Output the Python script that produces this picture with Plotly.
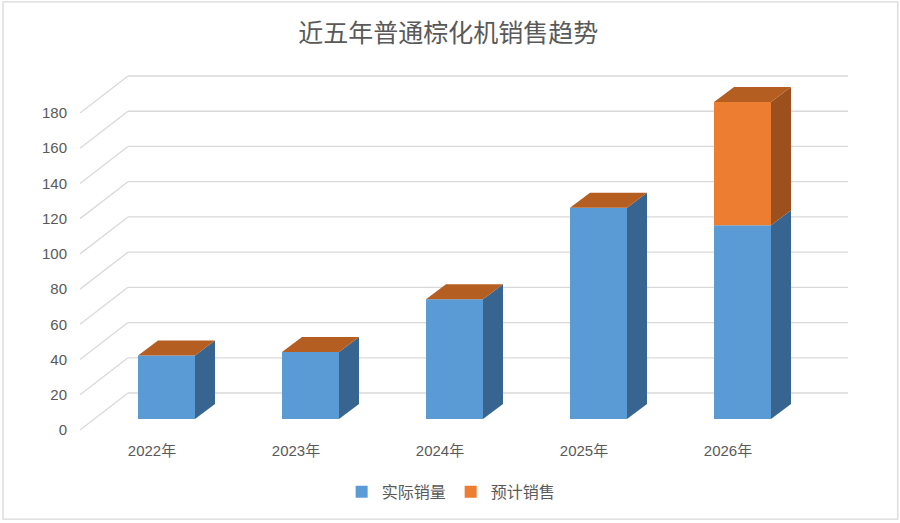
import plotly.graph_objects as go

# data
years = ['2022年', '2023年', '2024年', '2025年', '2026年']
actual = [36, 38, 68, 120, 110]
forecast = [0, 0, 0, 0, 70]
y_ticks = list(range(0, 181, 20))

# pseudo-3D geometry (category units on x, value units on y)
PX_CAT = 144
PX_VAL = 1.761
WALL_DX, WALL_DY = 48 / PX_CAT, 37 / PX_VAL
BAR_DX, BAR_DY = 14.5 / PX_CAT, 11 / PX_VAL
DEPTH_DX, DEPTH_DY = 20 / PX_CAT, 15 / PX_VAL
BAR_W = 57 / PX_CAT

BLUE, BLUE_SIDE = '#5B9BD5', '#386590'
ORANGE, ORANGE_SIDE, ORANGE_TOP = '#ED7D31', '#9C501D', '#B55E22'
GRID = '#D9D9D9'
TEXT = '#595959'
FONT = 'Liberation Sans, Noto Sans CJK SC'


def poly(points):
    xs = [p[0] for p in points] + [points[0][0]]
    ys = [p[1] for p in points] + [points[0][1]]
    return xs, ys


def face_trace(polys, color):
    xs, ys = [], []
    for p in polys:
        px, py = poly(p)
        xs += px + [None]
        ys += py + [None]
    return go.Scatter(x=xs, y=ys, mode='lines', fill='toself', fillcolor=color,
                      line=dict(width=0, color=color), showlegend=False,
                      hoverinfo='skip')


fig = go.Figure()

# back wall gridlines + diagonals to front plane
shapes = []
x_left = -0.5
x_right = len(years) - 0.5
for v in y_ticks:
    shapes.append(dict(type='line', xref='x', yref='y', layer='below',
                       x0=x_left, y0=v, x1=x_left + WALL_DX, y1=v + WALL_DY,
                       line=dict(color=GRID, width=1.3)))
    shapes.append(dict(type='line', xref='x', yref='y', layer='below',
                       x0=x_left + WALL_DX, y0=v + WALL_DY,
                       x1=x_right + WALL_DX, y1=v + WALL_DY,
                       line=dict(color=GRID, width=1.3)))
# chart border
shapes.append(dict(type='rect', xref='paper', yref='paper',
                   x0=-0.1, y0=-0.214, x1=1.062, y1=1.184,
                   line=dict(color=GRID, width=1.3), layer='below'))

bar_x = [i + BAR_DX for i in range(len(years))]

fig.add_trace(go.Bar(x=bar_x, y=actual, base=[BAR_DY] * len(years), width=BAR_W,
                     marker=dict(color=BLUE, line=dict(width=0)), name='实际销量'))
fig.add_trace(go.Bar(x=bar_x, y=forecast, base=[BAR_DY + a for a in actual],
                     width=BAR_W, marker=dict(color=ORANGE, line=dict(width=0)),
                     name='预计销售'))

blue_side, orange_side, tops = [], [], []
for i, (a, f) in enumerate(zip(actual, forecast)):
    x1 = bar_x[i] + BAR_W / 2
    x0 = bar_x[i] - BAR_W / 2
    b0 = BAR_DY
    b1 = BAR_DY + a
    b2 = BAR_DY + a + f
    blue_side.append([(x1, b0), (x1 + DEPTH_DX, b0 + DEPTH_DY),
                      (x1 + DEPTH_DX, b1 + DEPTH_DY), (x1, b1)])
    if f > 0:
        orange_side.append([(x1, b1), (x1 + DEPTH_DX, b1 + DEPTH_DY),
                            (x1 + DEPTH_DX, b2 + DEPTH_DY), (x1, b2)])
    tops.append([(x0, b2), (x1, b2), (x1 + DEPTH_DX, b2 + DEPTH_DY),
                 (x0 + DEPTH_DX, b2 + DEPTH_DY)])

fig.add_trace(face_trace(blue_side, BLUE_SIDE))
fig.add_trace(face_trace(orange_side, ORANGE_SIDE))
fig.add_trace(face_trace(tops, ORANGE_TOP))

y_lo = -10 / PX_VAL
y_hi = y_lo + 370 / PX_VAL

fig.update_layout(
    width=900, height=523,
    margin=dict(l=80, r=50, t=70, b=83),
    paper_bgcolor='white', plot_bgcolor='white',
    font=dict(family=FONT, color=TEXT, size=14),
    title=dict(text='近五年普通棕化机销售趋势', x=0.498, y=0.937,
               xanchor='center', yanchor='middle',
               font=dict(size=25, color=TEXT, family='Noto Sans CJK SC')),
    barmode='overlay',
    shapes=shapes,
    hovermode=False,
    legend=dict(orientation='h', x=0.482, xanchor='center', y=-0.14,
                yanchor='middle', font=dict(size=16, color=TEXT),
                itemwidth=30, traceorder='normal'),
    showlegend=True,
)
fig.update_xaxes(range=[x_left, x_left + 770 / PX_CAT], tickvals=list(range(len(years))),
                 ticktext=years, showgrid=False, zeroline=False, showline=False,
                 ticks='', tickfont=dict(size=15, color=TEXT))
fig.update_yaxes(range=[y_lo, y_hi], tickvals=y_ticks, showgrid=False,
                 zeroline=False, showline=False, ticks='', ticklabelstandoff=12,
                 tickfont=dict(size=15, color=TEXT))

fig.write_html('out.html', config={'displayModeBar': False},
               post_script="document.body.style.margin='0';")
